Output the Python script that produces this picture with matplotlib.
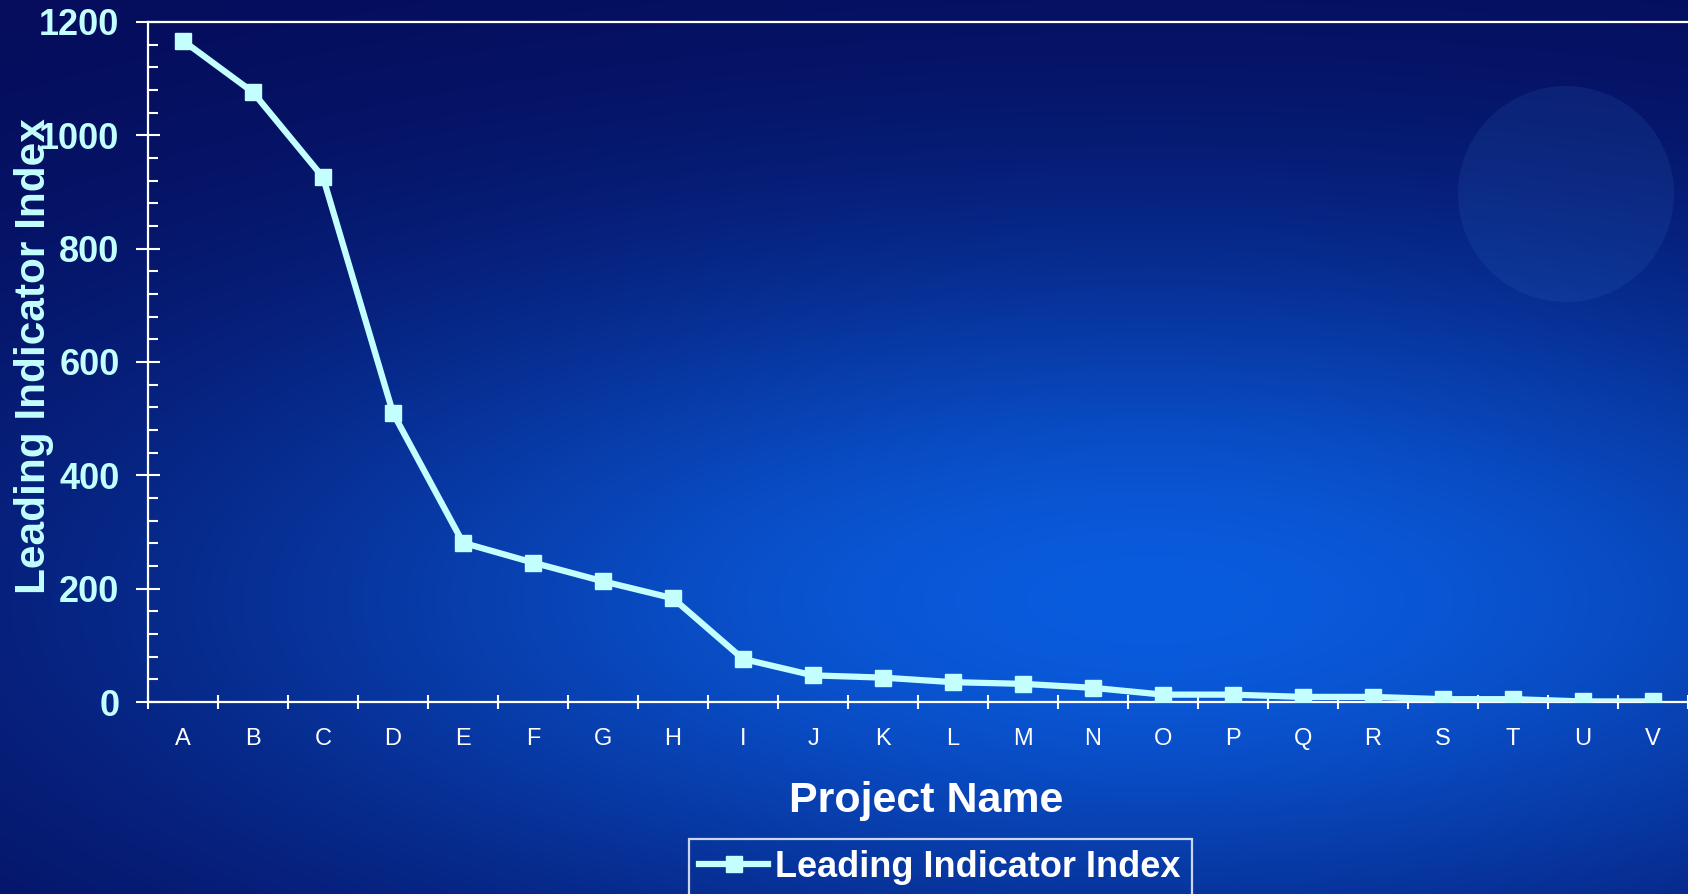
import numpy as np
import matplotlib
matplotlib.use('Agg')
import matplotlib.pyplot as plt
from matplotlib.ticker import MultipleLocator
from matplotlib.patches import Circle

plt.rcParams['font.family'] = ['Liberation Sans', 'DejaVu Sans']

# 数据
projects = ['A', 'B', 'C', 'D', 'E', 'F', 'G', 'H', 'I', 'J', 'K',
            'L', 'M', 'N', 'O', 'P', 'Q', 'R', 'S', 'T', 'U', 'V']
index_values = [1167, 1076, 926, 510, 281, 246, 213, 183, 76, 47, 43,
                35, 32, 25, 13, 13, 9, 9, 5, 5, 1, 1]
series_name = 'Leading Indicator Index'

W, H = 1688, 894
line_c = '#c4ffff'

fig = plt.figure(figsize=(W / 100, H / 100), dpi=100)

# 背景渐变
bg = fig.add_axes([0, 0, 1, 1])
yy, xx = np.mgrid[0:H, 0:W]
t = np.exp(-((xx - 1150) / 1000.0) ** 2 - ((yy - 600) / 360.0) ** 2)
dark = np.array([5, 12, 90]) / 255
bright = np.array([10, 92, 222]) / 255
img = dark[None, None, :] * (1 - t[..., None]) + bright[None, None, :] * t[..., None]
bg.imshow(img, aspect='auto', extent=[0, W, H, 0])
bg.add_patch(Circle((1566, 194), 108, color=(0.2, 0.45, 0.8), alpha=0.15, lw=0))
bg.set_xlim(0, W)
bg.set_ylim(H, 0)
bg.axis('off')

# 主坐标轴
ax = fig.add_axes([148 / W, 1 - 702 / H, (W - 148) / W, (702 - 22) / H])
ax.set_facecolor('none')
x = np.arange(len(projects))
ax.plot(x, index_values, color=line_c, lw=4.5, marker='s', markersize=11,
        label=series_name, zorder=3)

ax.set_xlim(-0.5, len(projects) - 0.5)
ax.set_ylim(0, 1200)

for side in ['left', 'top', 'bottom']:
    ax.spines[side].set_color('white')
    ax.spines[side].set_linewidth(1.6)
ax.spines['right'].set_visible(False)

ax.yaxis.set_major_locator(MultipleLocator(200))
ax.yaxis.set_minor_locator(MultipleLocator(40))
ax.tick_params(axis='y', which='major', direction='inout', length=17, width=1.5,
               color='white', labelsize=26, labelcolor=line_c, pad=12)
ax.tick_params(axis='y', which='minor', direction='in', length=7, width=1.5, color='white')
for lb in ax.get_yticklabels():
    lb.set_fontweight('bold')

ax.set_xticks(x)
ax.set_xticklabels(projects)
ax.set_xticks(np.arange(-0.5, len(projects), 1), minor=True)
ax.tick_params(axis='x', which='major', length=0, labelsize=17, labelcolor='white', pad=19)
ax.tick_params(axis='x', which='minor', direction='inout', length=10, width=1.5, color='white')

ax.set_xlabel('Project Name', fontsize=31, fontweight='bold', color='white', va='center')
ax.xaxis.set_label_coords(0.505, -0.146)
ax.set_ylabel(series_name, fontsize=30.5, fontweight='bold', color=line_c, va='center')
ax.yaxis.set_label_coords(-0.074, 0.509)

leg = fig.legend(loc='upper center', bbox_to_anchor=(940 / W, 1 - 839 / H),
                 frameon=True, fancybox=False, numpoints=1, handlelength=1.9,
                 handletextpad=0.2, borderpad=0.3, borderaxespad=0,
                 prop={'size': 26, 'weight': 'bold'})
leg.get_frame().set_facecolor('none')
leg.get_frame().set_edgecolor('white')
leg.get_frame().set_linewidth(1.6)
for txt in leg.get_texts():
    txt.set_color('white')

fig.savefig('out.png', dpi=100)
